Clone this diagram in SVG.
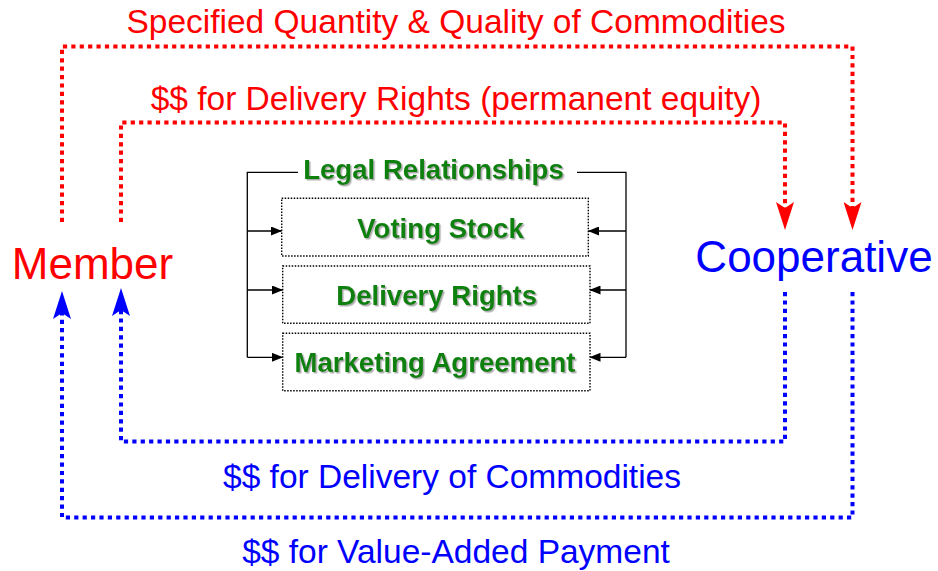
<svg xmlns="http://www.w3.org/2000/svg" width="938" height="571" viewBox="0 0 938 571">
<style>
.lbl{font-family:"Liberation Sans",Arial,sans-serif;font-size:33.5px;text-anchor:middle}
.big{font-family:"Liberation Sans",Arial,sans-serif;font-size:44px;text-anchor:middle}
.grn{font-family:"Liberation Sans",Arial,sans-serif;font-size:27.6px;font-weight:bold;fill:#0a800a;text-anchor:middle;filter:url(#sh)}
.red{fill:#ff0000}
.blue{fill:#0000ff}
.flow{fill:none;stroke-width:4;stroke-dasharray:4.2 4.2}
.fr{stroke:#ff0000}
.fb{stroke:#0000ff}
.box{fill:none;stroke:#000;stroke-width:1.4;stroke-dasharray:1.5 1.5}
.br{fill:none;stroke:#000;stroke-width:1.3}
</style>
<defs>
<filter id="sh" x="-5%" y="-20%" width="110%" height="140%">
<feDropShadow dx="1.5" dy="1.5" stdDeviation="0.6" flood-color="#999" flood-opacity="0.8"/>
</filter>
<marker id="ar" viewBox="0 0 28 18" refX="6" refY="9" markerWidth="28" markerHeight="18" markerUnits="userSpaceOnUse" orient="auto">
<path d="M0,0 L28,9 L0,18 L6,9 z" fill="#ff0000"/>
</marker>
<marker id="ab" viewBox="0 0 28 18" refX="6" refY="9" markerWidth="28" markerHeight="18" markerUnits="userSpaceOnUse" orient="auto">
<path d="M0,0 L28,9 L0,18 L6,9 z" fill="#0000ff"/>
</marker>
<marker id="ak" viewBox="0 0 11 9" refX="10.5" refY="4.5" markerWidth="11" markerHeight="9" markerUnits="userSpaceOnUse" orient="auto">
<path d="M0,0 L11,4.5 L0,9 z" fill="#000"/>
</marker>
</defs>
<rect width="938" height="571" fill="#fff"/>
<g id="connectors">
<path class="flow fr" d="M62,222 V46.5 H852.5 V208" marker-end="url(#ar)"/>
<path class="flow fr" d="M121,222 V122.5 H785 V208" marker-end="url(#ar)"/>
<path class="flow fb" d="M785,292 V441.5 H121 V310" marker-end="url(#ab)"/>
<path class="flow fb" d="M852.5,292 V517.5 H62 V313" marker-end="url(#ab)"/>
<path class="br" d="M298,172.3 H247.3 V357.3"/>
<path class="br" d="M577,172.3 H626 V357.3"/>
<path class="br" d="M247.3,231 H281.5" marker-end="url(#ak)"/>
<path class="br" d="M247.3,290 H282.5" marker-end="url(#ak)"/>
<path class="br" d="M247.3,357.3 H282.5" marker-end="url(#ak)"/>
<path class="br" d="M626,231 H588.5" marker-end="url(#ak)"/>
<path class="br" d="M626,290 H590" marker-end="url(#ak)"/>
<path class="br" d="M626,357.3 H590" marker-end="url(#ak)"/>
</g>
<g id="flow-labels">
<text class="lbl red" x="456" y="33">Specified Quantity &amp; Quality of Commodities</text>
<text class="lbl red" x="456" y="110">$$ for Delivery Rights (permanent equity)</text>
<text class="lbl blue" x="452" y="488">$$ for Delivery of Commodities</text>
<text class="lbl blue" x="456" y="562.5">$$ for Value-Added Payment</text>
</g>
<g id="member"><text class="big red" x="92.5" y="279">Member</text></g>
<g id="cooperative"><text class="big blue" x="814" y="272">Cooperative</text></g>
<g id="legal-relationships"><text class="grn" x="433.5" y="179">Legal Relationships</text></g>
<g id="voting-stock">
<rect class="box" x="281.7" y="198.3" width="306.6" height="57.7"/>
<text class="grn" x="440.5" y="238">Voting Stock</text>
</g>
<g id="delivery-rights">
<rect class="box" x="282.7" y="266" width="307.3" height="57.3"/>
<text class="grn" x="436.7" y="305">Delivery Rights</text>
</g>
<g id="marketing-agreement">
<rect class="box" x="282.7" y="333.3" width="307.3" height="57.4"/>
<text class="grn" x="435" y="371.7">Marketing Agreement</text>
</g>
</svg>
